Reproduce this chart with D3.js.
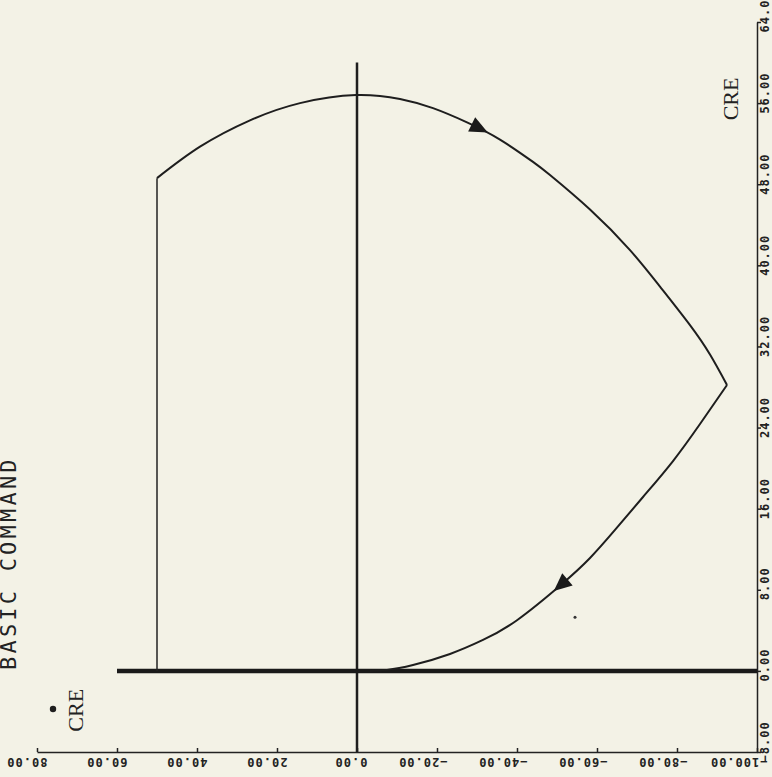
<!DOCTYPE html>
<html>
<head>
<meta charset="utf-8">
<script src="https://cdn.jsdelivr.net/npm/d3@7"></script>
<style>
  html, body { margin: 0; padding: 0; background: #f3f2e6; }
  svg { display: block; }
  .tick line, .domain { stroke: #222; stroke-width: 1.5; }
  .tick text { font-family: "DejaVu Sans Mono", monospace; font-weight: bold; font-size: 12px; letter-spacing: 1px; fill: #222; }
</style>
</head>
<body>
<div id="chart"></div>
<script>
// axis tick values
var rightTicks = [-8, 0, 8, 16, 24, 32, 40, 48, 56, 64];
var bottomTicks = [80, 60, 40, 20, 0, -20, -40, -60, -80, -100];

// trajectory, [bottom-axis value, right-axis value]
var climb = [[50, 0], [50, 48.6]];
var outbound = [[50, 48.6], [39.25, 51.7], [26.75, 54.3], [14.25, 56.0], [0.25, 56.8],
  [-10.75, 56.4], [-19, 55.5], [-27.5, 54.1], [-35.75, 52.4], [-44, 50.2], [-48.25, 48.9],
  [-58.25, 45.5], [-68.25, 41.5], [-75.75, 37.9], [-83.25, 34.1], [-88.25, 31.2], [-92.5, 28.2]];
var inbound = [[-92.5, 28.2], [-85.75, 24.35], [-79, 20.7], [-71.5, 17.15], [-64.5, 13.9],
  [-58.25, 11.13], [-51.25, 8.57], [-40, 5.0], [-31.5, 3.05], [-23.25, 1.67], [-14, 0.58],
  [-7.5, 0.1], [-3.25, 0]];
var baseTrack = [[60, 0], [-100, 0]];
var centerLine = [[0, -8], [0, 60]];
var arrowPoints = [[-30.75, 53.8], [-51.25, 8.5]];
var strayPoints = [[-54.5, 5.3]];
var creDot = [[76, -3.76]];
var labels = [
  {text: "CRE", v: 68.5, u: -6.0},
  {text: "CRE", v: -95.25, u: 54.3}
];
var title = "BASIC COMMAND";

var width = 772, height = 777;

var x = d3.scaleLinear().domain([80, -100]).range([37, 757]);
var y = d3.scaleLinear().domain([-8, 64]).range([752, 22]);

var svg = d3.select("#chart").append("svg")
    .attr("width", width)
    .attr("height", height);

var fmt = d3.format(".2f");

// bottom axis, labels turned upside down
svg.append("g")
    .attr("transform", "translate(0," + y(-8) + ")")
    .call(d3.axisTop(x).tickValues(bottomTicks).tickSize(4).tickSizeOuter(0).tickFormat(fmt))
    .selectAll("text")
    .attr("x", null).attr("y", null).attr("dy", null)
    .attr("text-anchor", "start")
    .attr("transform", "translate(10,6) rotate(180)");

// right axis, labels read upward
svg.append("g")
    .attr("transform", "translate(" + x(-100) + ",0)")
    .call(d3.axisRight(y).tickValues(rightTicks).tickSize(4).tickSizeOuter(0).tickFormat(fmt))
    .selectAll("text")
    .attr("x", null).attr("y", null).attr("dy", null)
    .attr("text-anchor", "start")
    .attr("transform", "translate(12,10) rotate(-90)");

var line = d3.line()
    .x(function(d) { return x(d[0]); })
    .y(function(d) { return y(d[1]); });

var curved = d3.line()
    .x(function(d) { return x(d[0]); })
    .y(function(d) { return y(d[1]); })
    .curve(d3.curveNatural);

svg.append("path").datum(centerLine)
    .attr("d", line).attr("fill", "none").attr("stroke", "#1e1e1e").attr("stroke-width", 2.5);

svg.append("path").datum(baseTrack)
    .attr("d", line).attr("fill", "none").attr("stroke", "#1a1a1a").attr("stroke-width", 4.5);

svg.append("path").datum(climb)
    .attr("d", line).attr("fill", "none").attr("stroke", "#222").attr("stroke-width", 1.5);

var paths = [outbound, inbound].map(function(seg) {
    return svg.append("path").datum(seg)
        .attr("d", curved).attr("fill", "none").attr("stroke", "#1e1e1e").attr("stroke-width", 2)
        .node();
});

// arrowheads follow the path direction
arrowPoints.forEach(function(p) {
    var px = x(p[0]), py = y(p[1]);
    var best = null;
    paths.forEach(function(node) {
        var L = node.getTotalLength();
        for (var l = 0; l <= L; l += 1) {
            var q = node.getPointAtLength(l);
            var dd = (q.x - px) * (q.x - px) + (q.y - py) * (q.y - py);
            if (!best || dd < best.dd) best = {dd: dd, l: l, node: node, L: L};
        }
    });
    var a = best.node.getPointAtLength(Math.max(0, best.l - 3));
    var b = best.node.getPointAtLength(Math.min(best.L, best.l + 3));
    var c = best.node.getPointAtLength(best.l);
    var ang = Math.atan2(b.y - a.y, b.x - a.x) * 180 / Math.PI;
    svg.append("path")
        .attr("d", "M10,0L-8,-8L-8,8Z")
        .attr("fill", "#1a1a1a")
        .attr("transform", "translate(" + c.x + "," + c.y + ") rotate(" + ang + ")");
});

svg.selectAll(".stray").data(strayPoints).enter().append("circle")
    .attr("class", "stray")
    .attr("cx", function(d) { return x(d[0]); })
    .attr("cy", function(d) { return y(d[1]); })
    .attr("r", 1.5).attr("fill", "#333");

svg.selectAll(".cre-dot").data(creDot).enter().append("circle")
    .attr("class", "cre-dot")
    .attr("cx", function(d) { return x(d[0]); })
    .attr("cy", function(d) { return y(d[1]); })
    .attr("r", 3.2).attr("fill", "#1e1e1e");

svg.selectAll(".cre").data(labels).enter().append("text")
    .attr("class", "cre")
    .attr("transform", function(d) { return "translate(" + x(d.v) + "," + y(d.u) + ") rotate(-90)"; })
    .attr("font-family", "Liberation Serif, serif")
    .attr("font-size", 22)
    .attr("fill", "#222")
    .text(function(d) { return d.text; });

svg.append("text")
    .attr("transform", "translate(16,670) rotate(-90)")
    .attr("font-family", "DejaVu Sans Mono, monospace")
    .attr("font-size", 22)
    .attr("letter-spacing", 3.2)
    .attr("fill", "#222")
    .text(title);
</script>
</body>
</html>
